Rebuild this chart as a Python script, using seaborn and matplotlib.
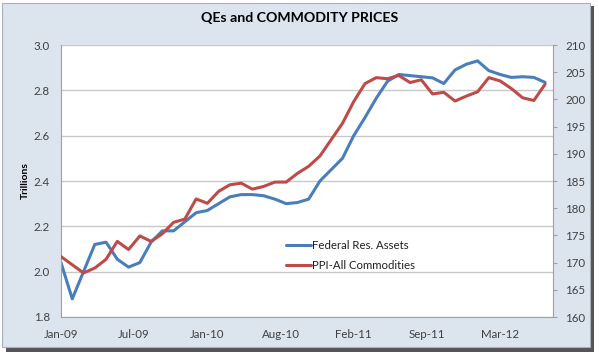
import numpy as np
import pandas as pd
import matplotlib
matplotlib.use("Agg")
import matplotlib.pyplot as plt
import seaborn as sns
from matplotlib.patches import Rectangle

# Veriler (aylik, Ocak 2009 - Agustos 2012)
fed_assets = [2.04, 1.88, 2.00, 2.12, 2.13, 2.055, 2.02, 2.04, 2.13, 2.18,
              2.18, 2.22, 2.26, 2.27, 2.30, 2.33, 2.34, 2.34, 2.335, 2.32,
              2.30, 2.305, 2.32, 2.40, 2.45, 2.50, 2.60, 2.68, 2.765, 2.84,
              2.87, 2.865, 2.86, 2.855, 2.83, 2.89, 2.915, 2.93, 2.887, 2.87,
              2.857, 2.86, 2.857, 2.835]
ppi_all = [171.1, 169.6, 168.1, 169.0, 170.6, 173.9, 172.4, 174.9, 173.9, 175.3,
           177.4, 178.0, 181.7, 180.9, 183.1, 184.3, 184.6, 183.5, 184.0, 184.8,
           184.8, 186.4, 187.7, 189.6, 192.6, 195.6, 199.6, 202.9, 204.0, 203.8,
           204.4, 203.1, 203.6, 201.0, 201.3, 199.7, 200.6, 201.4, 204.0, 203.4,
           202.0, 200.3, 199.8, 202.8]
tick_labels = ["Jan-09", "Jul-09", "Jan-10", "Aug-10", "Feb-11", "Sep-11", "Mar-12"]

df = pd.DataFrame({"ay": np.arange(len(fed_assets)),
                   "fed": fed_assets, "ppi": ppi_all})

sns.set_style("white")
plt.rcParams["font.family"] = ["Lato", "DejaVu Sans"]

mavi = "#4a7ebb"
kirmizi = "#be4b48"
gri_yazi = "#404040"

fig = plt.figure(figsize=(5.99, 3.58), dpi=100)
fig.patch.set_facecolor("white")

# Cerceve + golge
fig.patches.append(Rectangle((6 / 599, 1 - 352 / 358), 588 / 599, 346 / 358,
                             transform=fig.transFigure, facecolor="#555555",
                             edgecolor="none", zorder=-10))
fig.patches.append(Rectangle((2 / 599, 1 - 347 / 358), 588 / 599, 344 / 358,
                             transform=fig.transFigure, facecolor="#dce4ee",
                             edgecolor="#a8b0ba", linewidth=0.8, zorder=-9))

ax = fig.add_axes([61 / 599, 1 - 317 / 358, 492 / 599, 272 / 358])
ax.set_facecolor("white")
sns.lineplot(data=df, x="ay", y="fed", ax=ax, color=mavi, linewidth=2.2,
             label="Federal Res. Assets", legend=False)
ax2 = ax.twinx()
sns.lineplot(data=df, x="ay", y="ppi", ax=ax2, color=kirmizi, linewidth=2.2,
             label="PPI-All Commodities", legend=False)

ax.set_xlim(0, 43.7)
ax.set_ylim(1.8, 3.0)
ax2.set_ylim(160, 210)
ax.set_yticks(np.arange(1.8, 3.01, 0.2))
ax.set_yticklabels([f"{v:.1f}" for v in np.arange(1.8, 3.01, 0.2)])
ax2.set_yticks(np.arange(160, 211, 5))

ax.set_xticks([i * 6.5 for i in range(len(tick_labels))])
ax.set_xticklabels(tick_labels)
ax.set_xticks([i * 3.25 for i in range(1, 14)], minor=True)

ax.grid(axis="y", color="#c8c8c8", linewidth=1)
ax.set_axisbelow(True)

ax.set_xlabel("")
ax.set_ylabel("Trillions", fontsize=7.5, fontweight="bold", color="black", labelpad=3)
ax2.set_ylabel("")

for s in ["left", "bottom"]:
    ax.spines[s].set_color("#a0a0a0")
ax.spines["top"].set_visible(False)
ax.spines["right"].set_visible(False)
ax2.spines["top"].set_visible(False)
ax2.spines["left"].set_visible(False)
ax2.spines["bottom"].set_visible(False)
ax2.spines["right"].set_color("#a0a0a0")

ax.tick_params(axis="y", length=0, pad=8, labelsize=8.3, labelcolor=gri_yazi)
ax.tick_params(axis="x", which="major", direction="in", length=4, pad=9,
               labelsize=8.3, labelcolor=gri_yazi, color="#a0a0a0")
ax.tick_params(axis="x", which="minor", direction="in", length=4, color="#a0a0a0")
ax2.tick_params(axis="y", direction="out", length=3, pad=6, labelsize=8.3,
                labelcolor=gri_yazi, color="#a0a0a0")

fig.text(0.5, 1 - 18 / 358, "QEs and COMMODITY PRICES", ha="center", va="center",
         fontsize=10.2, fontweight="bold", color="black")

cizgiler = ax.get_lines() + ax2.get_lines()
fig.legend(cizgiler, [c.get_label() for c in cizgiler],
           loc="upper left", bbox_to_anchor=(280 / 599, 1 - 234 / 358),
           frameon=False, fontsize=8.2, handlelength=2.2, handletextpad=0.1,
           labelspacing=0.85, borderpad=0, labelcolor="#202020")

fig.savefig("out.png", dpi=100)
